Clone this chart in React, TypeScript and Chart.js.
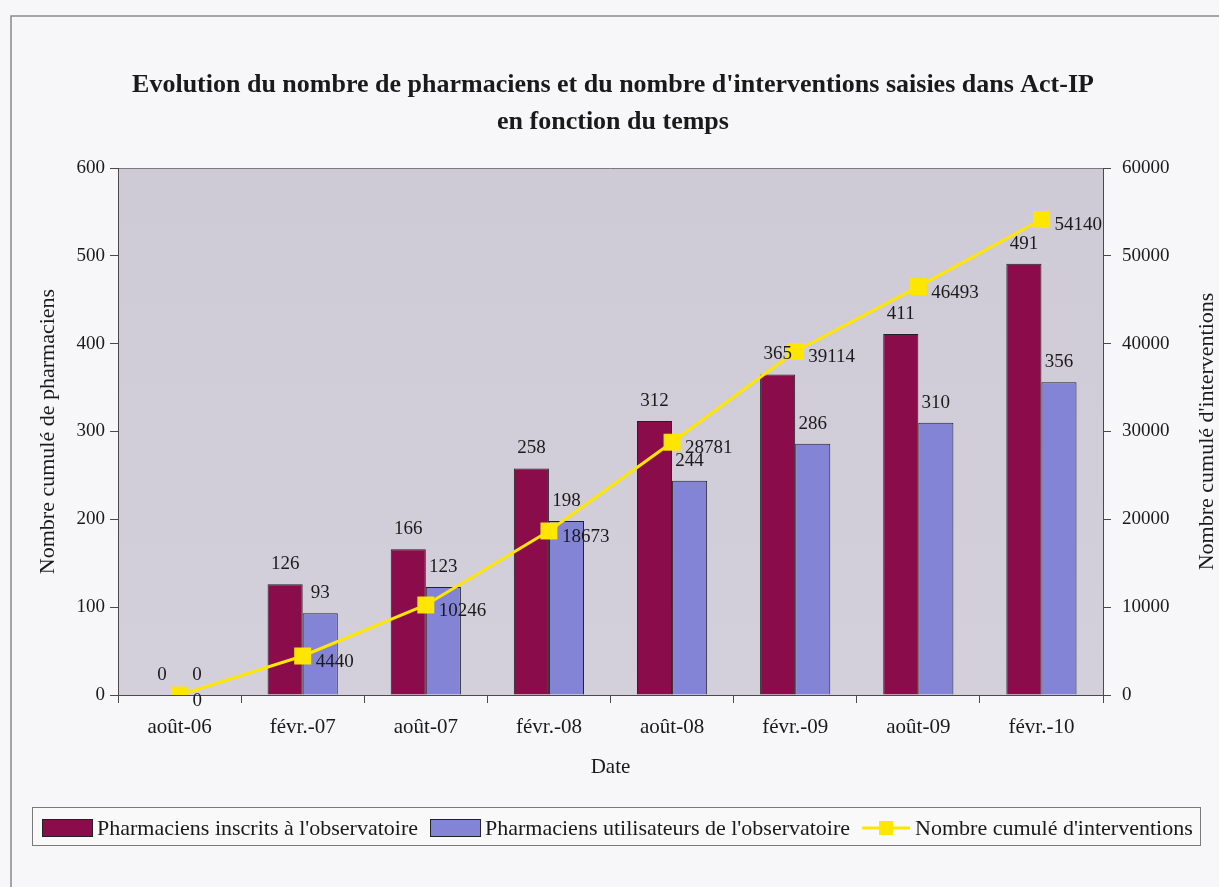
import React, { useEffect, useRef } from "react";
import { Chart, registerables } from "chart.js";

Chart.register(...registerables);

const categories = ["août-06", "févr.-07", "août-07", "févr.-08", "août-08", "févr.-09", "août-09", "févr.-10"];
const inscrits = [0, 126, 166, 258, 312, 365, 411, 491];
const utilisateurs = [0, 93, 123, 198, 244, 286, 310, 356];
const interventions = [0, 4440, 10246, 18673, 28781, 39114, 46493, 54140];
const seriesNames = [
  "Pharmaciens inscrits à l'observatoire",
  "Pharmaciens utilisateurs de l'observatoire",
  "Nombre cumulé d'interventions",
];
const titleLines = [
  "Evolution du nombre de pharmaciens et du nombre d'interventions saisies dans Act-IP",
  "en fonction du temps",
];
const leftAxisTitle = "Nombre cumulé de pharmaciens";
const rightAxisTitle = "Nombre cumulé d'interventions";
const xAxisTitle = "Date";

const FONT = "'Liberation Serif', 'Times New Roman', serif";
const MAROON = "#8a0c4a";
const BLUE = "#8484d6";
const YELLOW = "#ffe600";
const TEXT = "#1a1a1a";
const AXIS = "#4a4a4a";

const decorPlugin = {
  id: "decor",
  beforeDraw(chart: any) {
    const { ctx, chartArea: a, width, height } = chart;
    ctx.save();
    ctx.fillStyle = "#f7f7f9";
    ctx.fillRect(0, 0, width, height);
    // outer frame
    ctx.strokeStyle = "#8a8a8a";
    ctx.lineWidth = 1.5;
    ctx.beginPath();
    ctx.moveTo(11, height);
    ctx.lineTo(11, 16);
    ctx.lineTo(width, 16);
    ctx.stroke();
    // plot area background
    const g = ctx.createLinearGradient(0, a.top, 0, a.bottom);
    g.addColorStop(0, "#cecbd7");
    g.addColorStop(1, "#d3d0dc");
    ctx.fillStyle = g;
    ctx.fillRect(a.left, a.top, a.right - a.left, a.bottom - a.top);
    ctx.strokeStyle = "#7a7a80";
    ctx.lineWidth = 1;
    ctx.beginPath();
    ctx.moveTo(a.left, a.top + 0.5);
    ctx.lineTo(a.right, a.top + 0.5);
    ctx.stroke();
    ctx.restore();
  },
  afterDatasetsDraw(chart: any) {
    const { ctx } = chart;
    ctx.save();
    ctx.font = `19px ${FONT}`;
    ctx.fillStyle = TEXT;
    chart.data.datasets.forEach((ds: any, i: number) => {
      const meta = chart.getDatasetMeta(i);
      meta.data.forEach((el: any, j: number) => {
        const v = ds.data[j];
        if (ds.type === "line") {
          ctx.textAlign = "left";
          ctx.textBaseline = "middle";
          ctx.fillText(String(v), el.x + 13, el.y + 6);
        } else {
          ctx.textAlign = "center";
          ctx.textBaseline = "alphabetic";
          ctx.fillText(String(v), el.x, el.y - 15);
        }
      });
    });
    ctx.restore();
  },
  afterDraw(chart: any) {
    const { ctx, chartArea: a } = chart;
    ctx.save();
    // title
    ctx.fillStyle = TEXT;
    ctx.font = `bold 26px ${FONT}`;
    ctx.textAlign = "center";
    ctx.textBaseline = "middle";
    ctx.fillText(titleLines[0], 613, 85);
    ctx.fillText(titleLines[1], 613, 122);
    // right axis title (reads bottom-to-top)
    ctx.font = `22px ${FONT}`;
    ctx.translate(1207, (a.top + a.bottom) / 2);
    ctx.rotate(-Math.PI / 2);
    ctx.fillText(rightAxisTitle, 0, 0);
    ctx.setTransform(1, 0, 0, 1, 0, 0);
    // legend
    ctx.strokeStyle = "#7a7a7a";
    ctx.lineWidth = 1;
    ctx.fillStyle = "#f9f9fa";
    ctx.fillRect(32.5, 807.5, 1168, 38);
    ctx.strokeRect(32.5, 807.5, 1168, 38);
    ctx.font = `22px ${FONT}`;
    ctx.textAlign = "left";
    ctx.textBaseline = "middle";
    let x = 42;
    const cy = 828;
    chart.data.datasets.forEach((ds: any) => {
      if (ds.type === "line") {
        ctx.strokeStyle = ds.borderColor;
        ctx.lineWidth = 3;
        ctx.beginPath();
        ctx.moveTo(x, cy);
        ctx.lineTo(x + 48, cy);
        ctx.stroke();
        ctx.fillStyle = ds.pointBackgroundColor;
        ctx.fillRect(x + 24 - 7, cy - 7, 14, 14);
        x += 53;
      } else {
        ctx.fillStyle = ds.backgroundColor;
        ctx.fillRect(x, cy - 9, 50, 17);
        ctx.strokeStyle = "#222";
        ctx.lineWidth = 1;
        ctx.strokeRect(x + 0.5, cy - 8.5, 50, 17);
        x += 55;
      }
      ctx.fillStyle = TEXT;
      ctx.fillText(ds.label, x, cy + 1);
      x += ctx.measureText(ds.label).width + 12;
    });
    ctx.restore();
  },
};

export default function App() {
  const ref = useRef<HTMLCanvasElement | null>(null);
  useEffect(() => {
    document.body.style.margin = "0";
    const canvas = ref.current;
    if (!canvas) return;
    const tickFontY = { family: FONT, size: 19 };
    const tickFontX = { family: FONT, size: 21 };
    const chart = new Chart(canvas, {
      type: "bar",
      data: {
        labels: categories,
        datasets: [
          {
            type: "bar",
            label: seriesNames[0],
            data: inscrits,
            yAxisID: "y",
            backgroundColor: MAROON,
            borderColor: "#222",
            borderWidth: 1,
            order: 1,
          },
          {
            type: "bar",
            label: seriesNames[1],
            data: utilisateurs,
            yAxisID: "y",
            backgroundColor: BLUE,
            borderColor: "#222",
            borderWidth: 1,
            order: 1,
          },
          {
            type: "line",
            label: seriesNames[2],
            data: interventions,
            yAxisID: "y1",
            borderColor: YELLOW,
            backgroundColor: YELLOW,
            pointBackgroundColor: YELLOW,
            pointBorderColor: YELLOW,
            borderWidth: 3,
            pointStyle: "rect",
            pointRadius: 12,
            pointBorderWidth: 0,
            order: 0,
          } as any,
        ],
      },
      options: {
        responsive: false,
        animation: false,
        events: [],
        datasets: { bar: { categoryPercentage: 0.57, barPercentage: 1.0 } },
        layout: { padding: { left: 31, right: 26, top: 168, bottom: 103 } },
        plugins: { legend: { display: false }, title: { display: false }, tooltip: { enabled: false } },
        scales: {
          x: {
            grid: { display: true, drawOnChartArea: false, drawTicks: true, tickLength: 8, color: AXIS, offset: true },
            border: { display: true, color: AXIS },
            ticks: { font: tickFontX, color: TEXT, padding: 12, maxRotation: 0 },
            title: { display: true, text: xAxisTitle, font: { family: FONT, size: 21 }, color: TEXT },
            afterFit: (s: any) => {
              s.height = 89;
            },
          },
          y: {
            position: "left",
            min: 0,
            max: 600,
            ticks: { stepSize: 100, font: tickFontY, color: TEXT, padding: 5, callback: (v: any) => String(v) },
            grid: { drawOnChartArea: false, drawTicks: true, tickLength: 8, color: AXIS },
            border: { display: true, color: AXIS },
            title: { display: true, text: leftAxisTitle, font: { family: FONT, size: 22 }, color: TEXT },
            afterFit: (s: any) => {
              s.width = 87;
            },
          },
          y1: {
            position: "right",
            min: 0,
            max: 60000,
            ticks: { stepSize: 10000, font: tickFontY, color: TEXT, padding: 11, callback: (v: any) => String(v) },
            grid: { drawOnChartArea: false, drawTicks: true, tickLength: 8, color: AXIS },
            border: { display: true, color: AXIS },
            afterFit: (s: any) => {
              s.width = 90;
            },
          },
        },
      },
      plugins: [decorPlugin],
    } as any);
    return () => chart.destroy();
  }, []);
  return <canvas ref={ref} width={1219} height={887} style={{ display: "block" }} />;
}
